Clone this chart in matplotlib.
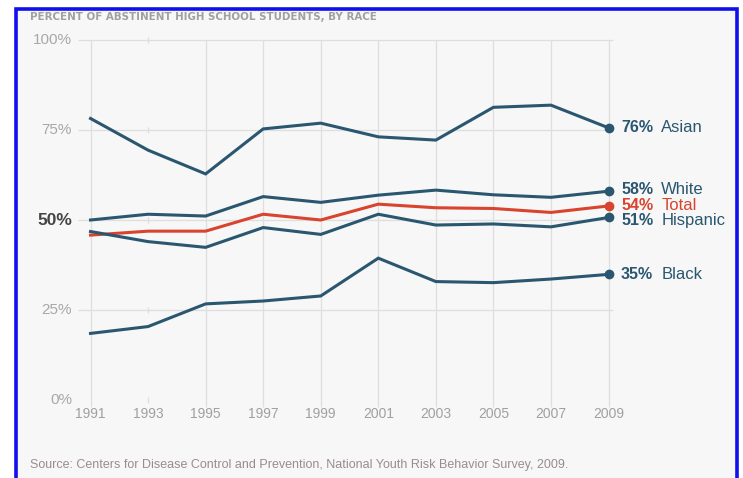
import matplotlib.pyplot as plt
from matplotlib.patches import Rectangle

# data
years = [1991, 1993, 1995, 1997, 1999, 2001, 2003, 2005, 2007, 2009]
asian = [78.2, 69.4, 62.8, 75.3, 76.9, 73.1, 72.2, 81.3, 81.9, 75.6]
white = [50.0, 51.6, 51.1, 56.5, 54.9, 56.9, 58.3, 57.0, 56.3, 58.0]
total = [45.8, 46.9, 46.9, 51.6, 50.0, 54.4, 53.4, 53.2, 52.1, 53.9]
hispanic = [46.8, 44.0, 42.4, 47.9, 46.0, 51.6, 48.6, 48.9, 48.1, 50.7]
black = [18.5, 20.4, 26.7, 27.5, 28.9, 39.4, 32.9, 32.6, 33.6, 34.9]
end_pct = ["76%", "58%", "54%", "51%", "35%"]
names = ["Asian", "White", "Total", "Hispanic", "Black"]
yticks = [0, 25, 50, 75, 100]

blue = "#2a5670"
red = "#d8442e"
grid = "#dedede"
plt.rcParams['font.family'] = ['Liberation Sans', 'DejaVu Sans']

fig = plt.figure(figsize=(7.43, 4.78), dpi=100)
fig.patch.set_facecolor("white")
# blue frame, bottom edge runs off the picture
fig.patches.append(Rectangle((16 / 743, -0.05), (737 - 16) / 743, 1.05 - 8.5 / 478,
                             transform=fig.transFigure, facecolor="#f6f7f6",
                             edgecolor="#1010ee", linewidth=2.6, zorder=-5))

ax = fig.add_axes([0.0831, 0.1255, 0.794, 0.8059])
ax.set_xlim(1990, 2010.5)
ax.set_ylim(-5, 102)
ax.axis("off")

# grid
for v in yticks[1:]:
    ax.hlines(v, 1990.58, 2009.15, color=grid, lw=0.9, zorder=1)
for yr in years:
    if yr == 1993:
        continue
    ax.vlines(yr, -2, 100, color=grid, lw=0.9, zorder=1)
for v in yticks:
    ax.vlines(1993, v - 0.8, v + 0.8, color=grid, lw=0.9, zorder=1)

# tick labels
for v in yticks:
    if v == 50:
        ax.text(1990.36, v, "%d%%" % v, ha="right", va="center", fontsize=12.5,
                color="#444444", fontweight="bold")
    else:
        ax.text(1990.36, v, "%d%%" % v, ha="right", va="center", fontsize=11,
                color="#a8a8a8")
for yr in years:
    ax.text(yr, -3.8, str(yr), ha="center", va="center", fontsize=10, color="#a0a0a0")

series = [asian, white, total, hispanic, black]
colors = [blue, blue, red, blue, blue]
offsets = [0, 0.6, 0, -0.9, 0]
for vals, c, pct, nm, off in zip(series, colors, end_pct, names, offsets):
    ax.plot(years, vals, color=c, lw=2.2, zorder=3, solid_joinstyle="miter")
    ax.plot(years[-1], vals[-1], "o", color=c, ms=6, zorder=4)
    ax.annotate(pct, (years[-1], vals[-1] + off), xytext=(9, 0), textcoords="offset points",
                ha="left", va="center", fontsize=11.5, fontweight="bold", color=c)
    ax.annotate(nm, (years[-1], vals[-1] + off), xytext=(38, 0), textcoords="offset points",
                ha="left", va="center", fontsize=12, color=c)

fig.text(30 / 743, 1 - 17 / 478, "PERCENT OF ABSTINENT HIGH SCHOOL STUDENTS, BY RACE",
         fontsize=7.4, color="#a0a0a0", fontweight="bold", family="DejaVu Sans", va="center")
fig.text(30 / 743, 1 - 465 / 478,
         "Source: Centers for Disease Control and Prevention, National Youth Risk Behavior Survey, 2009.",
         fontsize=9, color="#9a8c8e", va="center")

fig.savefig("out.png", dpi=100)
